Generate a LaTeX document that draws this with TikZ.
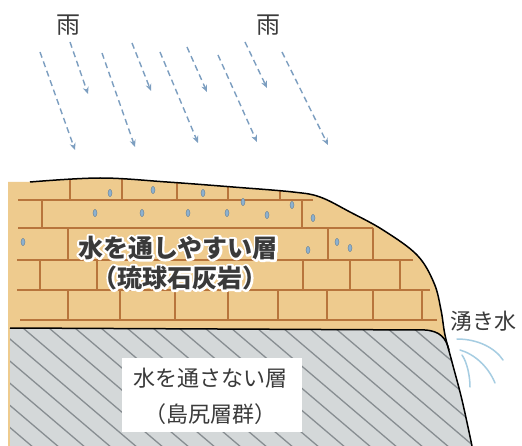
\documentclass[tikz,border=0pt]{standalone}
\usepackage{fontspec}
\newfontfamily\jp{Noto Sans CJK JP}
\usetikzlibrary{arrows.meta}
\definecolor{sand}{HTML}{EECB8E}
\definecolor{brick}{HTML}{B8753C}
\definecolor{rock}{HTML}{D4D8D9}
\definecolor{hatch}{HTML}{878D91}
\definecolor{rain}{HTML}{7C9EC0}
\definecolor{drop}{HTML}{8DB1CF}
\definecolor{spring}{HTML}{A6CDE2}
\definecolor{ink}{HTML}{3A3A3A}
% text with a white outline: a stroked white copy under the normal glyphs
\newcommand\outlined[1]{\leavevmode\rlap{\color{white}\special{pdf:literal direct 1 Tr 4.4 w 1 j}#1\special{pdf:literal direct 0 Tr 1 w 0 j}}#1}
\tikzset{
  rainarrow/.style={rain, line width=1.4pt, dash pattern=on 6pt off 4pt,
    -{Stealth[length=7pt,width=6pt]}},
  brickline/.style={brick, line width=1.8pt},
  hatchline/.style={hatch, line width=1.3pt},
  outline/.style={black, line width=1.5pt, line join=round},
  springline/.style={spring, line width=1.5pt, line cap=round},
  waterdrop/.style={fill=drop, draw=drop!70!black, line width=0.4pt},
  label/.style={ink, font=\jp\fontsize{22}{26}\selectfont, inner sep=0pt},
  biglabel/.style={ink, font=\jp\bfseries\fontsize{25}{29}\selectfont, inner sep=0pt},
}
\begin{document}
\begin{tikzpicture}[x=1pt,y=-1pt]
\useasboundingbox (0,0) rectangle (522,446);
\fill[white] (0,0) rectangle (522,446);

% permeable limestone layer
\fill[sand] (8,182) -- plot[smooth,tension=0.6] coordinates {(30,182) (100,178) (167,182) (233,187) (293,192) (320,197) (350,212) (383,230) (417,255) (434,283) (441,310) (445,335) (452,362) (462,400) (472,446)} -- (8,446) -- cycle;

\begin{scope}
  \clip (8,182) -- plot[smooth,tension=0.6] coordinates {(30,182) (100,178) (167,182) (233,187) (293,192) (320,197) (350,212) (383,230) (417,255) (434,283) (441,310) (445,335) (452,362) (462,400) (472,446)} -- (8,446) -- cycle;
  % brick courses
  \draw[brickline] (18,200) -- (313,200);
  \draw[brickline] (18,228) -- (373,228);
  \draw[brickline] (17,260) -- (413,260);
  \draw[brickline] (17,290) -- (430,290);
  \draw[brickline] (20,320) -- (437,320);
  \foreach \x in {70,122,177,228,280} \draw[brickline] (\x,170) -- (\x,200);
  \foreach \x in {42,302} \draw[brickline] (\x,200) -- (\x,228);
  \foreach \x in {68,328,373} \draw[brickline] (\x,228) -- (\x,260);
  \foreach \x in {40,97,303,350,400} \draw[brickline] (\x,260) -- (\x,290);
  \foreach \x in {68,120,175,228,278,327,373,422} \draw[brickline] (\x,290) -- (\x,320);

  % impermeable layer
  \fill[rock] (10,328) -- (425,330) .. controls (440,331) and (446,338) .. (449,350) -- (490,446) -- (10,446) -- cycle;
  \begin{scope}
    \clip (10,328) -- (425,330) .. controls (440,331) and (446,338) .. (449,350) -- (490,446) -- (10,446) -- cycle;
    \foreach \k in {-6,...,18} \draw[hatchline] (23+26*\k,328) -- ++(141,120);
  \end{scope}
\end{scope}

% water drops seeping through the limestone
\foreach \x/\y in {110/193,153/190,203/193,243/202,292/205,95/213,142/213,188/213,227/213,267/215,313/218,23/242,308/250,337/242,350/248}
  \filldraw[waterdrop] (\x,\y) ellipse (2pt and 3.6pt);

% boundaries
\draw[outline] (10,328) -- (425,330) .. controls (440,331) and (446,338) .. (449,350);
\draw[outline] plot[smooth,tension=0.6] coordinates {(30,182) (100,178) (167,182) (233,187) (293,192) (320,197) (350,212) (383,230) (417,255) (434,283) (441,310) (445,335) (452,362) (462,400) (472,446)};

% rain
\foreach \i/\ax/\ay/\bx/\by in {1/40/52/75/150, 2/70/42/88/94, 3/102/53/135/147, 4/132/43/151/91, 5/160/52/198/143, 6/187/47/207/92, 7/218/55/257/142, 8/245/42/267/88, 9/282/52/328/145} {
  \coordinate (r\i s) at (\ax,\ay);
  \coordinate (r\i e) at (\bx,\by);
  \draw[rainarrow] (r\i s) -- (r\i e);
}
\node[label, font=\jp\fontsize{24}{28}\selectfont] (rainA) at (68,25) {雨};
\node[label, font=\jp\fontsize{24}{28}\selectfont] (rainB) at (268,25) {雨};

% spring water
\coordinate (s1a) at (457,339); \coordinate (s1b) at (503,360);
\coordinate (s2a) at (460,350); \coordinate (s2b) at (495,383);
\coordinate (s3a) at (462,355); \coordinate (s3b) at (470,387);
\draw[springline] (s1a) .. controls (478,339) and (495,348) .. (s1b);
\draw[springline] (s2a) .. controls (474,354) and (488,366) .. (s2b);
\draw[springline] (s3a) .. controls (467,362) and (470,376) .. (s3b);
\node[label] (spring) at (483,321) {湧き水};

% label of the permeable layer
\node[biglabel] (perm) at (178,248) {\outlined{水を通しやすい層}};
\node[biglabel] (permsub) at (180,278) {\outlined{（琉球石灰岩）}};

% label of the impermeable layer
\fill[white] (122,358) rectangle (302,432);
\node[label] (imperm) at (210,378) {水を通さない層};
\node[label] (impermsub) at (210,414) {（島尻層群）};
\end{tikzpicture}
\end{document}
